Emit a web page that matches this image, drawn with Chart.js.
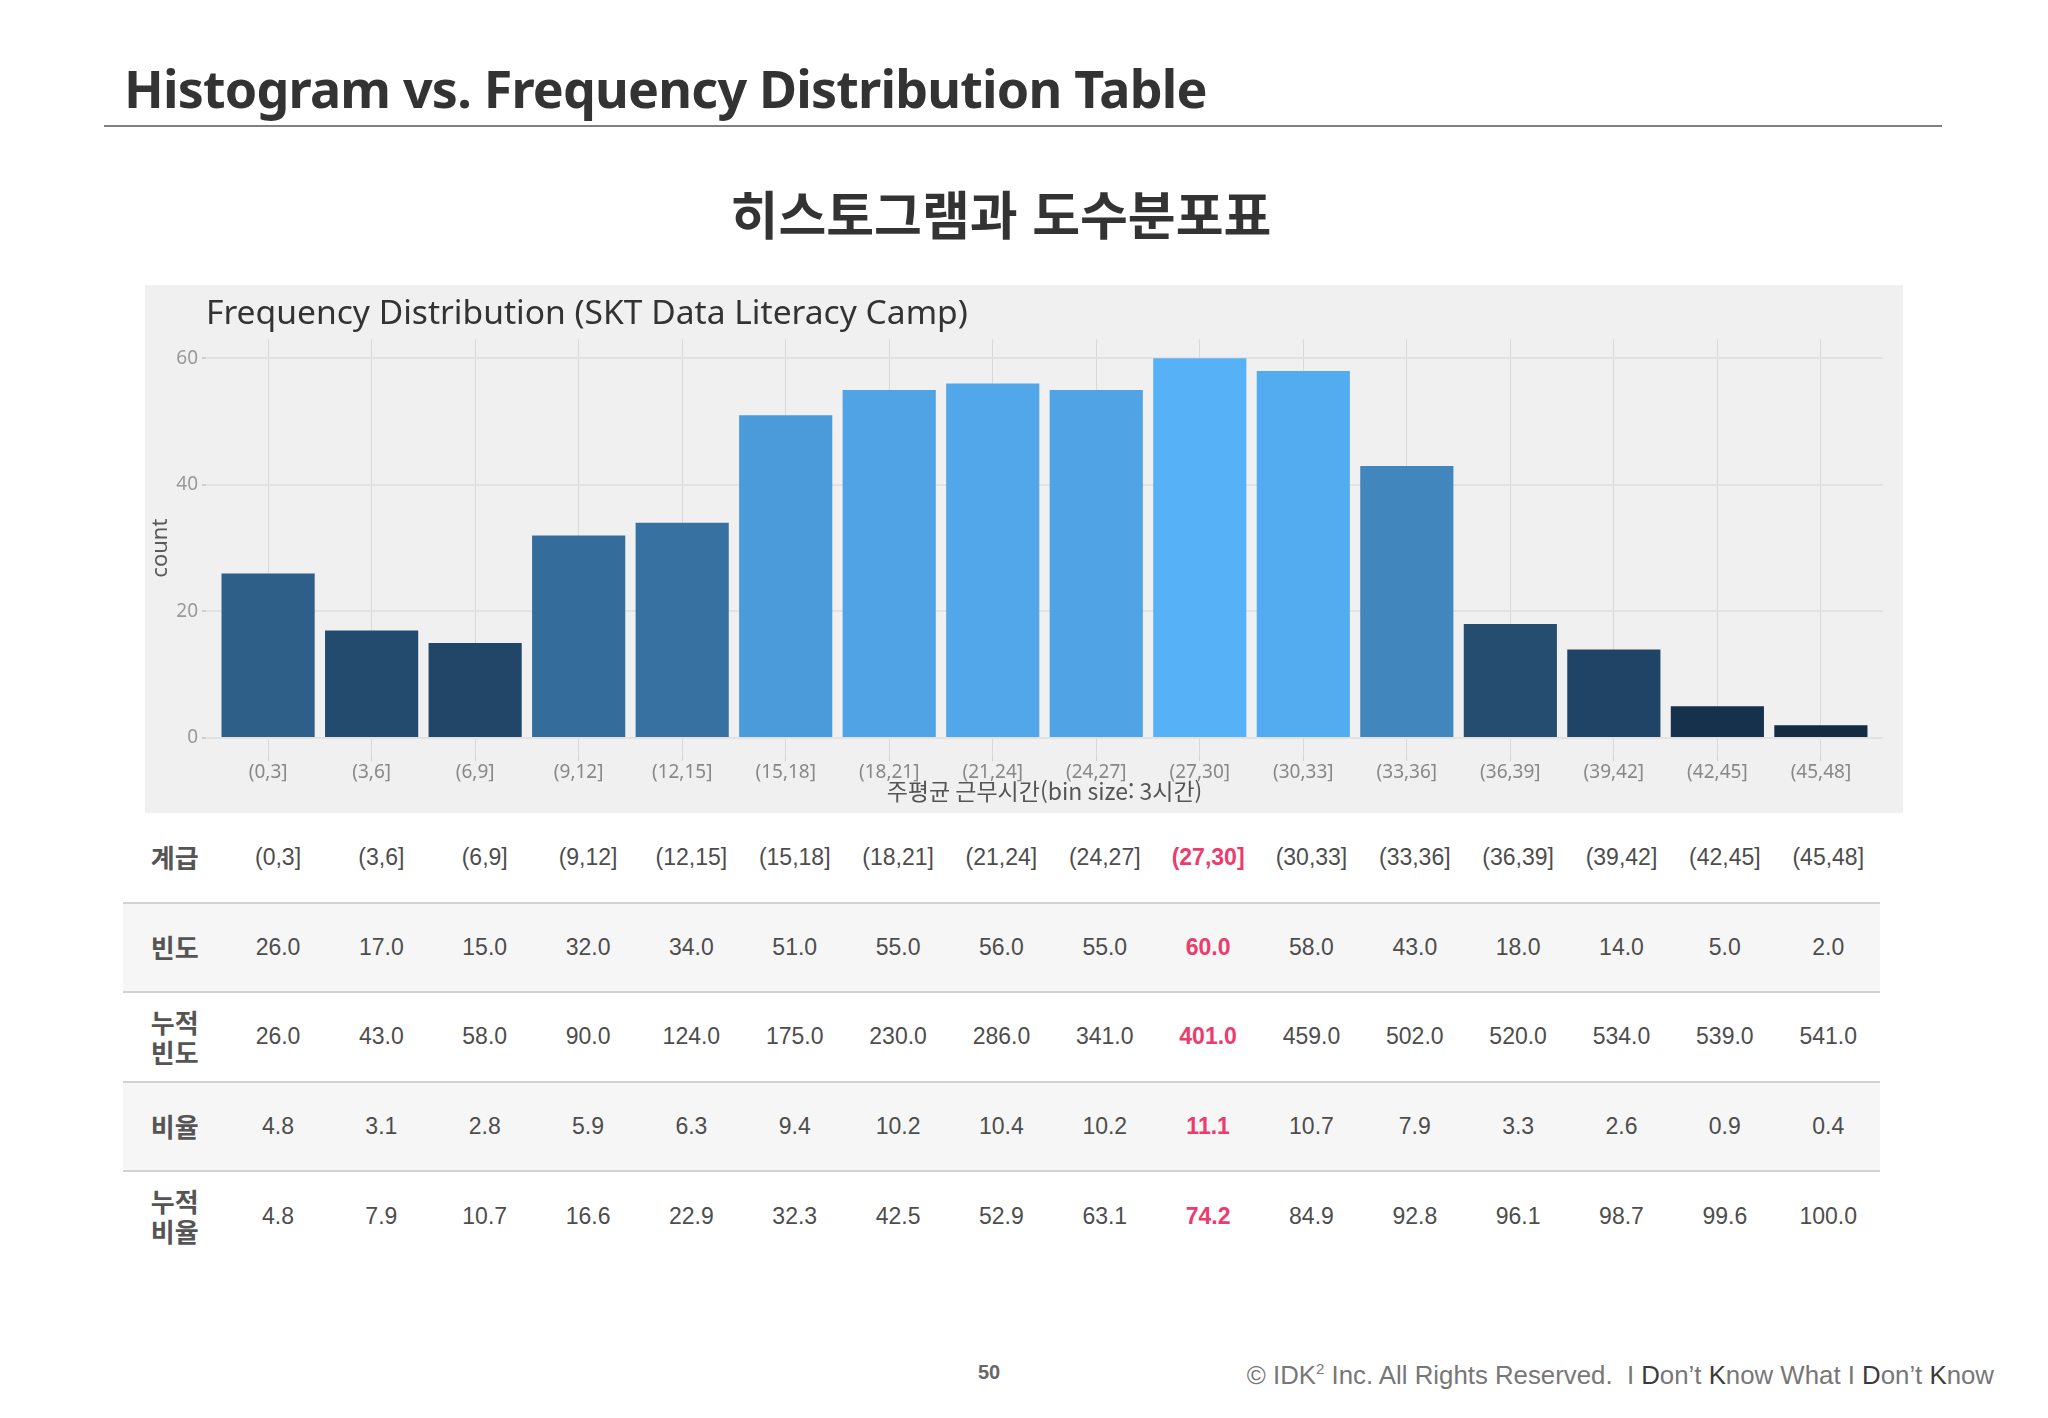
<!DOCTYPE html>
<html lang="ko">
<head>
<meta charset="utf-8">
<script src="https://cdn.jsdelivr.net/npm/chart.js@4.4.1/dist/chart.umd.min.js"></script>
<style>
  html, body { margin: 0; padding: 0; background: #fff; }
  body { width: 2048px; height: 1418px; position: relative; overflow: hidden;
         font-family: 'Noto Sans', 'Noto Sans CJK KR', sans-serif; }
  #pageTitle { position: absolute; left: 124px; top: 62px; font-size: 52px; line-height: 52px;
               letter-spacing: -0.8px; font-weight: 700; color: #333; white-space: nowrap; }
  #rule { position: absolute; left: 104px; top: 125px; width: 1838px; height: 2px; background: #808080; }
  #subTitle { position: absolute; left: 0; width: 2002px; text-align: center; top: 187px;
              font-family: 'Noto Sans CJK KR', sans-serif; font-size: 52px; line-height: 52px;
              font-weight: 700; color: #333; }
  #panel { position: absolute; left: 145px; top: 285px; width: 1758px; height: 528px; background: #f0f0f0; }
  #freqTable { position: absolute; left: 123px; top: 813px; width: 1757px; border-collapse: collapse;
               table-layout: fixed; font-family: 'Liberation Sans', Arial, sans-serif; }
  #freqTable td { text-align: center; vertical-align: middle; padding: 0; font-size: 23px; color: #4d4d4d; }
  #freqTable tr { height: 89.5px; }
  #freqTable tr.shade td { background: #f6f6f6; }
  #freqTable tr.line td { border-bottom: 2px solid #d2d2d2; }
  #freqTable td.head { font-family: 'Noto Sans CJK KR', sans-serif; font-weight: 700; font-size: 26px;
                       line-height: 30px; color: #555; }
  #freqTable td.hi { color: #ec3b6c; font-weight: 700; }
  #pageNo { position: absolute; left: 978px; top: 1360px; font-family: 'Liberation Sans', Arial, sans-serif;
            font-weight: 700; font-size: 20px; line-height: 24px; color: #666; }
  #copy { position: absolute; right: 54px; top: 1360px; font-family: 'Liberation Sans', Arial, sans-serif;
          font-size: 25.8px; line-height: 30px; color: #777; white-space: nowrap; }
  #copy b { font-weight: 400; color: #3a3a3a; }
</style>
</head>
<body>
<div id="pageTitle">Histogram vs. Frequency Distribution Table</div>
<div id="rule"></div>
<div id="subTitle">히스토그램과 도수분포표</div>
<div id="panel"><canvas id="histo" width="1758" height="528"></canvas></div>
<table id="freqTable"></table>
<div id="pageNo">50</div>
<div id="copy">© IDK<sup style="font-size:15px;vertical-align:10px;line-height:0">2</sup> Inc. All Rights Reserved.&nbsp; I <b>D</b>on’t <b>K</b>now What I <b>D</b>on’t <b>K</b>now</div>

<script>
// ─── DATOS ────────────────────────────────────────────────────────────────
const bins = ['(0,3]', '(3,6]', '(6,9]', '(9,12]', '(12,15]', '(15,18]', '(18,21]', '(21,24]',
              '(24,27]', '(27,30]', '(30,33]', '(33,36]', '(36,39]', '(39,42]', '(42,45]', '(45,48]'];
const counts    = [26, 17, 15, 32, 34, 51, 55, 56, 55, 60, 58, 43, 18, 14, 5, 2];
const cumCounts = [26, 43, 58, 90, 124, 175, 230, 286, 341, 401, 459, 502, 520, 534, 539, 541];
const ratios    = [4.8, 3.1, 2.8, 5.9, 6.3, 9.4, 10.2, 10.4, 10.2, 11.1, 10.7, 7.9, 3.3, 2.6, 0.9, 0.4];
const cumRatios = [4.8, 7.9, 10.7, 16.6, 22.9, 32.3, 42.5, 52.9, 63.1, 74.2, 84.9, 92.8, 96.1, 98.7, 99.6, 100.0];
const yTicks = [0, 20, 40, 60];
const highlightIdx = 9;

// ─── COLOR (gradiente tipo ggplot, en Lab) ────────────────────────────────
const lowCol = '#132B43', highCol = '#56B1F7';

function toLab(hex) {
  const lin = c => { c /= 255; return c <= 0.04045 ? c / 12.92 : Math.pow((c + 0.055) / 1.055, 2.4); };
  const r = lin(parseInt(hex.slice(1, 3), 16)), g = lin(parseInt(hex.slice(3, 5), 16)), b = lin(parseInt(hex.slice(5, 7), 16));
  const X = (0.4124 * r + 0.3576 * g + 0.1805 * b) / 0.95047;
  const Y = 0.2126 * r + 0.7152 * g + 0.0722 * b;
  const Z = (0.0193 * r + 0.1192 * g + 0.9505 * b) / 1.08883;
  const f = t => t > 0.008856 ? Math.cbrt(t) : 7.787 * t + 16 / 116;
  return [116 * f(Y) - 16, 500 * (f(X) - f(Y)), 200 * (f(Y) - f(Z))];
}

function fromLab([L, a, bb]) {
  const fy = (L + 16) / 116, fx = fy + a / 500, fz = fy - bb / 200;
  const inv = t => t * t * t > 0.008856 ? t * t * t : (t - 16 / 116) / 7.787;
  const X = inv(fx) * 0.95047, Y = inv(fy), Z = inv(fz) * 1.08883;
  const r = 3.2406 * X - 1.5372 * Y - 0.4986 * Z;
  const g = -0.9689 * X + 1.8758 * Y + 0.0415 * Z;
  const b = 0.0557 * X - 0.2040 * Y + 1.0570 * Z;
  const out = c => {
    const v = c <= 0.0031308 ? 12.92 * c : 1.055 * Math.pow(c, 1 / 2.4) - 0.055;
    return Math.round(Math.max(0, Math.min(1, v)) * 255);
  };
  return `rgb(${out(r)},${out(g)},${out(b)})`;
}

const labLo = toLab(lowCol), labHi = toLab(highCol);
const cMin = Math.min(...counts), cMax = Math.max(...counts);
const barColors = counts.map(v => {
  const t = (v - cMin) / (cMax - cMin);
  return fromLab(labLo.map((l, i) => l + (labHi[i] - l) * t));
});

// ─── GRÁFICA ──────────────────────────────────────────────────────────────
new Chart(document.getElementById('histo'), {
  type: 'bar',
  data: {
    datasets: [{
      data: counts.map((v, i) => ({ x: i, y: v })),
      backgroundColor: barColors,
      borderWidth: 0,
      barPercentage: 0.9,
      categoryPercentage: 1
    }]
  },
  options: {
    responsive: false,
    animation: false,
    layout: { padding: { top: 0, left: 0, right: 20, bottom: 8 } },
    plugins: {
      legend: { display: false },
      tooltip: { enabled: false },
      title: {
        display: true,
        text: 'Frequency Distribution (SKT Data Literacy Camp)',
        align: 'start',
        fullSize: false,
        color: '#333',
        font: { family: "'Noto Sans', sans-serif", size: 33.6, weight: 'normal' },
        padding: { top: 9, bottom: 5 }
      }
    },
    scales: {
      x: {
        type: 'linear',
        offset: false,
        min: -0.6, max: 15.6,
        afterBuildTicks: axis => { axis.ticks = bins.map((b, i) => ({ value: i })); },
        afterFit: axis => { axis.height = 48; },
        border: { display: false },
        grid: { offset: false, color: '#d8d8d8', lineWidth: 1, tickLength: 4, tickColor: '#d0d0d0' },
        ticks: {
          color: '#888', padding: 0, maxRotation: 0, autoSkip: false,
          font: { family: "'Noto Sans', sans-serif", size: 19 },
          callback: v => bins[v]
        },
        title: {
          display: true,
          text: '주평균 근무시간(bin size: 3시간)',
          color: '#555',
          font: { family: "'Noto Sans CJK KR', sans-serif", size: 23 },
          padding: { top: 0, bottom: 0 }
        }
      },
      y: {
        min: -3, max: 63,
        afterBuildTicks: axis => { axis.ticks = yTicks.map(v => ({ value: v })); },
        afterFit: axis => { axis.width = 61; },
        border: { display: false },
        grid: { color: '#e2e2e2', lineWidth: 2, tickLength: 4, tickColor: '#d0d0d0' },
        ticks: { color: '#999', padding: 4, font: { family: "'Noto Sans', sans-serif", size: 19 } },
        title: {
          display: true, text: 'count', color: '#5a5a5a',
          font: { family: "'Noto Sans', sans-serif", size: 22 },
          padding: { top: 3, bottom: 0 }
        }
      }
    }
  }
});

// ─── TABLA ────────────────────────────────────────────────────────────────
const rows = [
  { head: '계급', vals: bins, cls: 'line' },
  { head: '빈도', vals: counts.map(v => v.toFixed(1)), cls: 'line shade' },
  { head: '누적<br>빈도', vals: cumCounts.map(v => v.toFixed(1)), cls: 'line' },
  { head: '비율', vals: ratios.map(v => v.toFixed(1)), cls: 'line shade' },
  { head: '누적<br>비율', vals: cumRatios.map(v => v.toFixed(1)), cls: '' }
];

let html = '<colgroup>' + '<col style="width:103.35px">'.repeat(17) + '</colgroup>';
rows.forEach(r => {
  html += `<tr class="${r.cls}"><td class="head">${r.head}</td>`;
  r.vals.forEach((v, i) => {
    html += `<td${i === highlightIdx ? ' class="hi"' : ''}>${v}</td>`;
  });
  html += '</tr>';
});
document.getElementById('freqTable').innerHTML = html;
</script>
</body>
</html>
